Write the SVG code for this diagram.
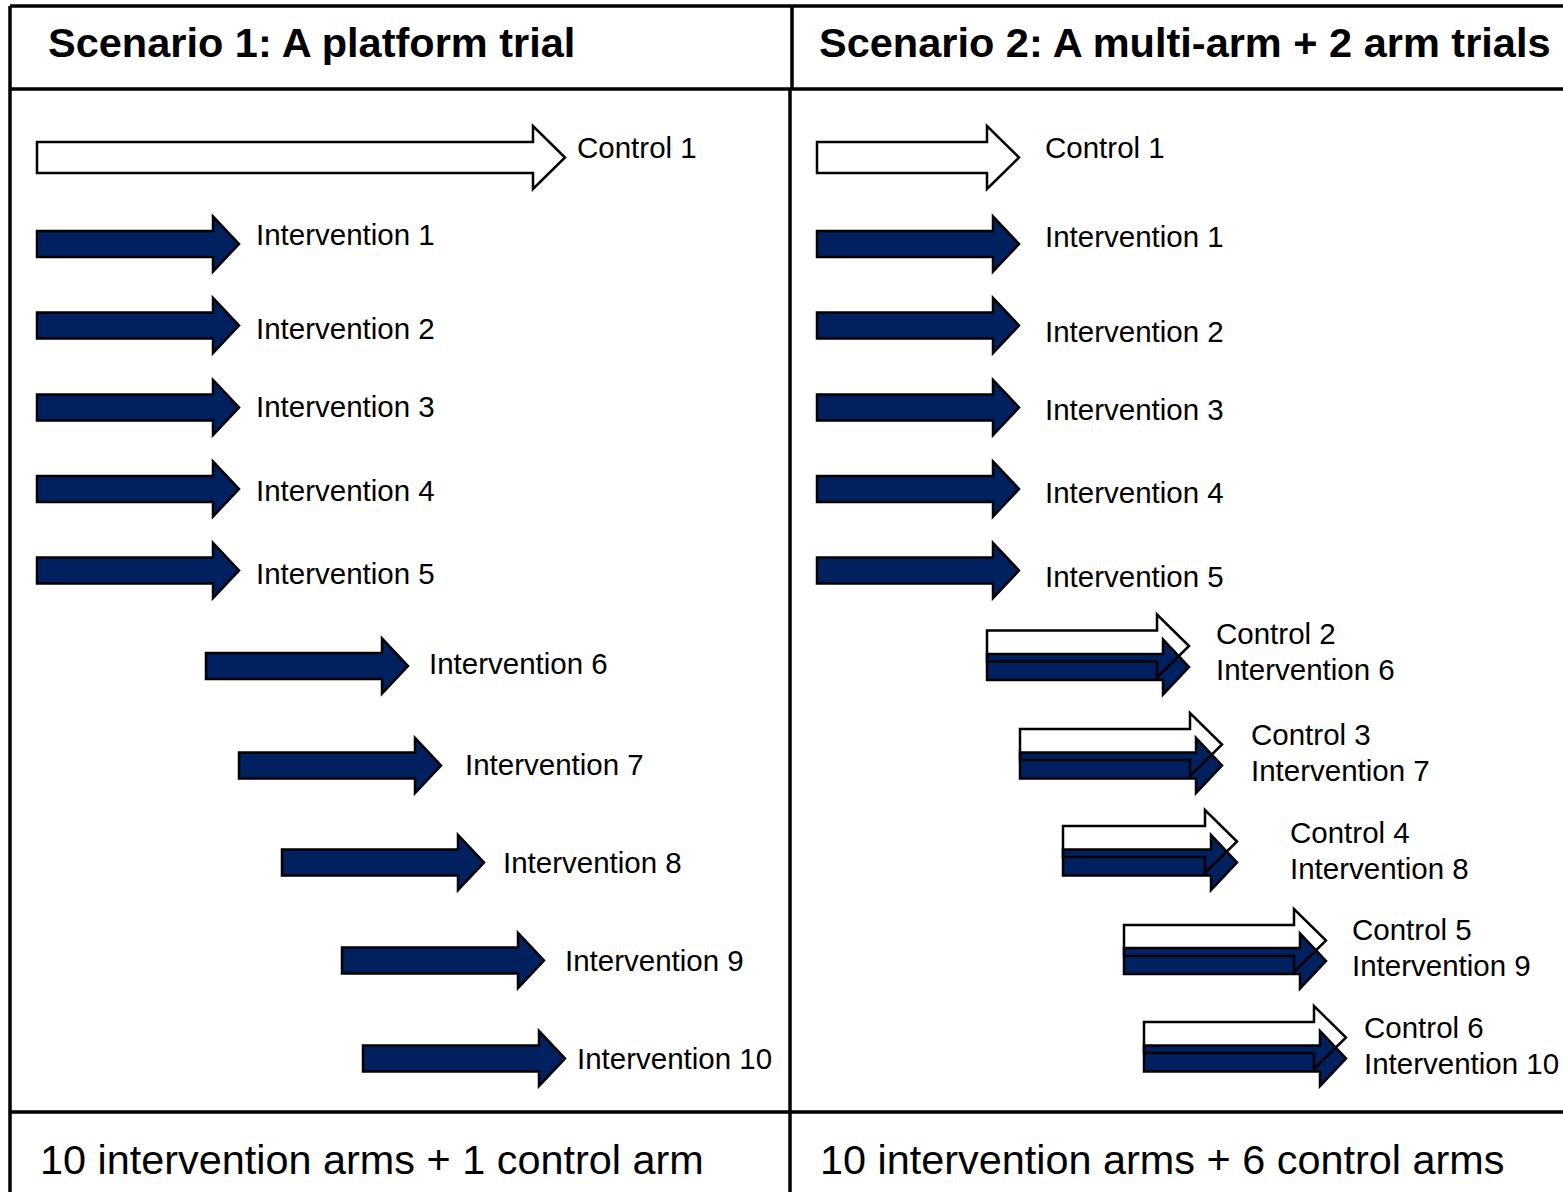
<svg xmlns="http://www.w3.org/2000/svg" xmlns:xlink="http://www.w3.org/1999/xlink" width="1563" height="1192" viewBox="0 0 1563 1192">
<style>
  .frame{stroke:#000;stroke-width:3.5;fill:none}
  .wf{fill:#fff;stroke:none}
  .ws{fill:none;stroke:#000;stroke-width:2.5;stroke-linejoin:miter}
  .w{fill:#fff;stroke:#000;stroke-width:2.5}
  .b{fill:#002060;stroke:#000;stroke-width:2.5}
  text{font-family:"Liberation Sans",Arial,sans-serif;fill:#000}
  .lbl{font-size:29.5px}
  .title{font-size:41.5px;font-weight:bold}
  .foot{font-size:41.4px}
</style>
<defs>
  <path id="wa" d="M0,-15.5 H170 V-31.5 L202,0 L170,31.5 V15.5 H0 Z"/>
  <path id="ba" d="M0,-13 H176 V-27.5 L202,0 L176,27.5 V13 H0 Z"/>
  <path id="wa3" d="M0,-15.5 H142 V-31.5 L174,0 L142,31.5 V15.5 H0 Z"/>
  <path id="ba3" d="M0,-13 H148 V-27.5 L174,0 L148,27.5 V13 H0 Z"/>
</defs>
<rect width="1563" height="1192" fill="#fff"/>
<g id="frame">
  <line class="frame" x1="10" y1="6" x2="1563" y2="6"/>
  <line class="frame" x1="10" y1="6" x2="10" y2="1192"/>
  <line class="frame" x1="10" y1="89" x2="1563" y2="89"/>
  <line class="frame" x1="10" y1="1112" x2="1563" y2="1112"/>
  <line class="frame" x1="792" y1="6" x2="792" y2="89"/>
  <line class="frame" x1="790" y1="89" x2="790" y2="1192"/>
</g>
<g id="headers">
  <text class="title" x="48" y="57">Scenario 1: A platform trial</text>
  <text class="title" x="819" y="57">Scenario 2: A multi-arm + 2 arm trials</text>
</g>
<g id="scenario1">
  <g id="s1-control1"><path class="w" d="M37,142 H533 V126 L565,157.5 L533,189 V173 H37 Z"/><text class="lbl" x="577" y="158">Control 1</text></g>
  <g id="s1-int1"><use xlink:href="#ba" class="b" x="37" y="244"/><text class="lbl" x="256" y="245">Intervention 1</text></g>
  <g id="s1-int2"><use xlink:href="#ba" class="b" x="37" y="325.5"/><text class="lbl" x="256" y="339">Intervention 2</text></g>
  <g id="s1-int3"><use xlink:href="#ba" class="b" x="37" y="407.5"/><text class="lbl" x="256" y="417">Intervention 3</text></g>
  <g id="s1-int4"><use xlink:href="#ba" class="b" x="37" y="489"/><text class="lbl" x="256" y="501">Intervention 4</text></g>
  <g id="s1-int5"><use xlink:href="#ba" class="b" x="37" y="570.5"/><text class="lbl" x="256" y="584">Intervention 5</text></g>
  <g id="s1-int6"><use xlink:href="#ba" class="b" x="206" y="666"/><text class="lbl" x="429" y="674">Intervention 6</text></g>
  <g id="s1-int7"><use xlink:href="#ba" class="b" x="239" y="765.5"/><text class="lbl" x="465" y="775">Intervention 7</text></g>
  <g id="s1-int8"><use xlink:href="#ba" class="b" x="282" y="862.5"/><text class="lbl" x="503" y="873">Intervention 8</text></g>
  <g id="s1-int9"><use xlink:href="#ba" class="b" x="342" y="960.5"/><text class="lbl" x="565" y="971">Intervention 9</text></g>
  <g id="s1-int10"><use xlink:href="#ba" class="b" x="363" y="1058.5"/><text class="lbl" x="577" y="1069">Intervention 10</text></g>
</g>
<g id="scenario2">
  <g id="s2-control1"><use xlink:href="#wa" class="w" x="817" y="157.5"/><text class="lbl" x="1045" y="158">Control 1</text></g>
  <g id="s2-int1"><use xlink:href="#ba" class="b" x="817" y="244"/><text class="lbl" x="1045" y="247">Intervention 1</text></g>
  <g id="s2-int2"><use xlink:href="#ba" class="b" x="817" y="325.5"/><text class="lbl" x="1045" y="342">Intervention 2</text></g>
  <g id="s2-int3"><use xlink:href="#ba" class="b" x="817" y="407.5"/><text class="lbl" x="1045" y="420">Intervention 3</text></g>
  <g id="s2-int4"><use xlink:href="#ba" class="b" x="817" y="489"/><text class="lbl" x="1045" y="503">Intervention 4</text></g>
  <g id="s2-int5"><use xlink:href="#ba" class="b" x="817" y="570.5"/><text class="lbl" x="1045" y="587">Intervention 5</text></g>
  <g id="s2-pair1">
    <use xlink:href="#wa" class="wf" x="987" y="646"/>
    <use xlink:href="#ba" class="b" x="987" y="667"/>
    <use xlink:href="#wa" class="ws" x="987" y="646"/>
    <text class="lbl" x="1216" y="644">Control 2</text>
    <text class="lbl" x="1216" y="680">Intervention 6</text>
  </g>
  <g id="s2-pair2">
    <use xlink:href="#wa" class="wf" x="1020" y="744.5"/>
    <use xlink:href="#ba" class="b" x="1020" y="765.5"/>
    <use xlink:href="#wa" class="ws" x="1020" y="744.5"/>
    <text class="lbl" x="1251" y="745">Control 3</text>
    <text class="lbl" x="1251" y="781">Intervention 7</text>
  </g>
  <g id="s2-pair3">
    <use xlink:href="#wa3" class="wf" x="1063" y="841.5"/>
    <use xlink:href="#ba3" class="b" x="1063" y="862.5"/>
    <use xlink:href="#wa3" class="ws" x="1063" y="841.5"/>
    <text class="lbl" x="1290" y="843">Control 4</text>
    <text class="lbl" x="1290" y="879">Intervention 8</text>
  </g>
  <g id="s2-pair4">
    <use xlink:href="#wa" class="wf" x="1124" y="940.5"/>
    <use xlink:href="#ba" class="b" x="1124" y="961"/>
    <use xlink:href="#wa" class="ws" x="1124" y="940.5"/>
    <text class="lbl" x="1352" y="940">Control 5</text>
    <text class="lbl" x="1352" y="976">Intervention 9</text>
  </g>
  <g id="s2-pair5">
    <use xlink:href="#wa" class="wf" x="1144" y="1037.5"/>
    <use xlink:href="#ba" class="b" x="1144" y="1058.5"/>
    <use xlink:href="#wa" class="ws" x="1144" y="1037.5"/>
    <text class="lbl" x="1364" y="1038">Control 6</text>
    <text class="lbl" x="1364" y="1074">Intervention 10</text>
  </g>
</g>
<g id="footers">
  <text class="foot" x="40" y="1174">10 intervention arms + 1 control arm</text>
  <text class="foot" x="820" y="1174">10 intervention arms + 6 control arms</text>
</g>
</svg>
